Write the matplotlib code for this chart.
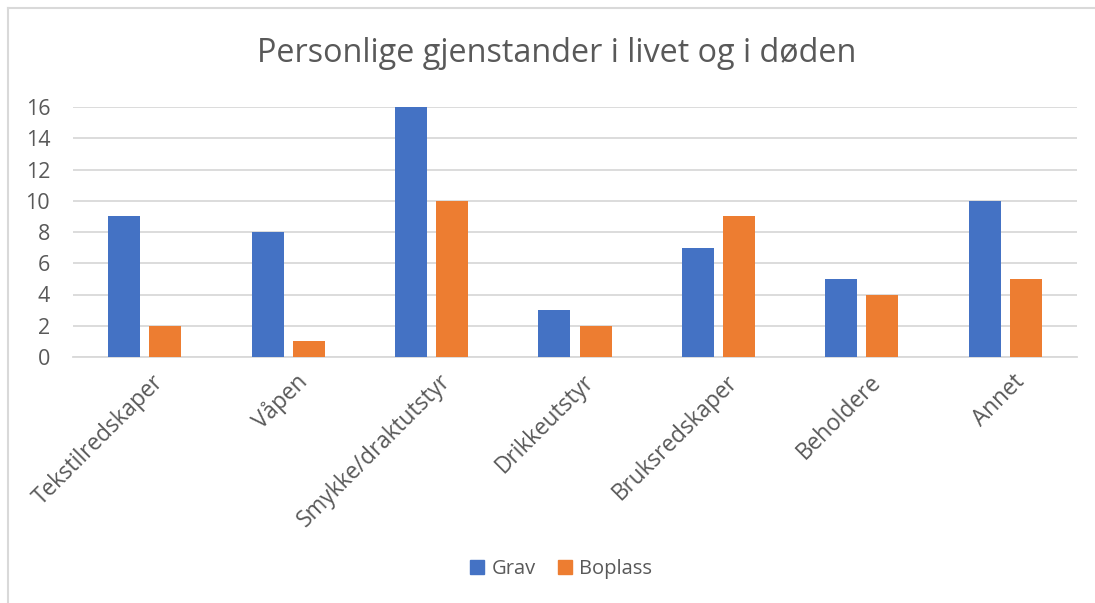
import matplotlib
matplotlib.use("Agg")
import matplotlib.pyplot as plt
import numpy as np
from matplotlib.lines import Line2D
from matplotlib.patches import Patch

categories = ["Tekstilredskaper", "Våpen", "Smykke/draktutstyr", "Drikkeutstyr",
              "Bruksredskaper", "Beholdere", "Annet"]
grav = [9, 8, 16, 3, 7, 5, 10]
boplass = [2, 1, 10, 2, 9, 4, 5]
yticks = [0, 2, 4, 6, 8, 10, 12, 14, 16]
title = "Personlige gjenstander i livet og i døden"

plt.rcParams['font.family'] = ['Open Sans', 'DejaVu Sans']
txt = '#595959'
W, H = 1095, 603
fig = plt.figure(figsize=(W/100, H/100), dpi=100)
fig.patch.set_facecolor('white')

l, r, b, t = 73, 1077, 357, 107
ax = fig.add_axes([l/W, 1 - b/H, (r-l)/W, (b-t)/H])
x = np.arange(len(categories))
bw = 0.223
off = 0.143
ax.bar(x - off, grav, bw, color='#4472C4', zorder=3, label='Grav')
ax.bar(x + off, boplass, bw, color='#ED7D31', zorder=3, label='Boplass')
ax.set_xlim(-0.5, len(categories) - 0.5)
ax.set_ylim(0, 16)
ax.set_yticks(yticks)
ax.set_yticklabels([str(v) for v in yticks], color=txt, fontsize=15.5)
ax.yaxis.grid(True, color='#D9D9D9', linewidth=1.3, zorder=0)
ax.tick_params(axis='y', length=0, pad=16.5)
ax.tick_params(axis='x', length=0)
for s in ['top', 'right', 'left']:
    ax.spines[s].set_visible(False)
ax.spines['bottom'].set_color('#D9D9D9')
ax.spines['bottom'].set_linewidth(1.3)
ax.set_xticks(x)
ax.set_xticklabels(categories, rotation=45, ha='right', va='top',
                   rotation_mode='anchor', color=txt, fontsize=16.3)
for lab in ax.get_xticklabels():
    lab.set_transform(lab.get_transform() + matplotlib.transforms.ScaledTranslation(0.07, -0.08, fig.dpi_scale_trans))

fig.text(557/W, 1 - 53/H, title, ha='center', va='center', color=txt, fontsize=23.3)

handles = [Patch(color='#4472C4', label='Grav'), Patch(color='#ED7D31', label='Boplass')]
fig.legend(handles=handles, loc='center', bbox_to_anchor=(561/W, 1 - 569/H), ncol=2,
           frameon=False, fontsize=14.5, labelcolor=txt, handlelength=0.7, handleheight=0.7,
           handletextpad=0.35, columnspacing=1.1)

# chart border (top and left visible)
fig.add_artist(Line2D([7.5/W, 7.5/W], [0, 1 - 8/H], transform=fig.transFigure, color='#D9D9D9', lw=1.5))
fig.add_artist(Line2D([7.5/W, 1], [1 - 8/H, 1 - 8/H], transform=fig.transFigure, color='#D9D9D9', lw=1.5))

fig.savefig('out.png', dpi=100, facecolor='white')
